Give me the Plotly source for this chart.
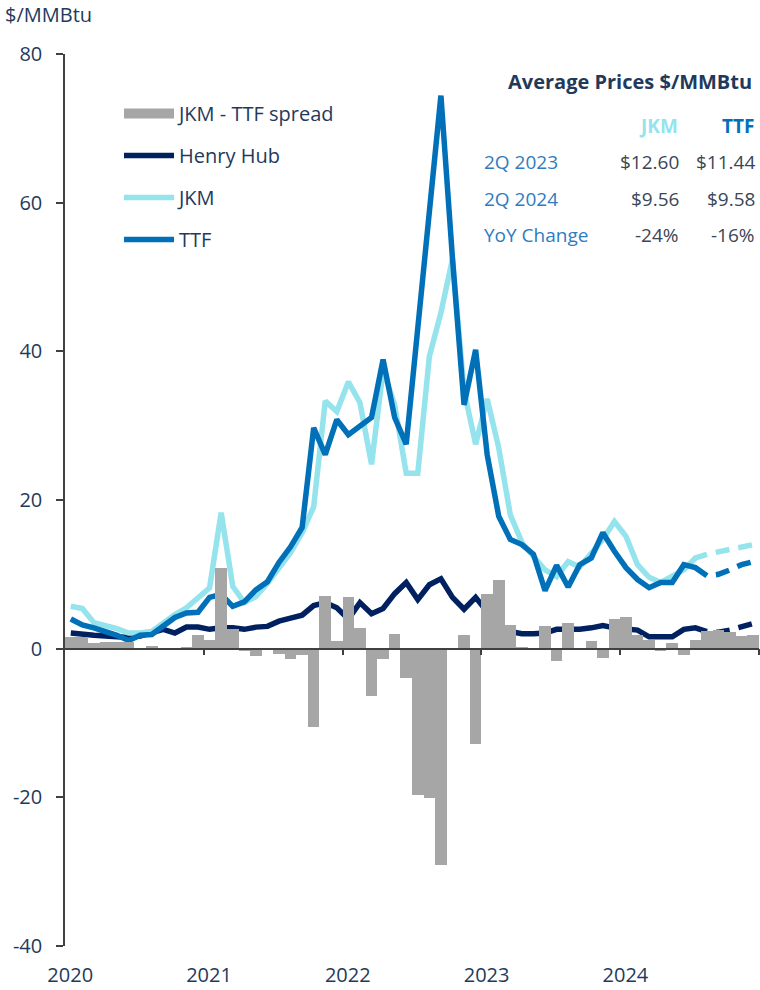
import plotly.graph_objs as go

# monthly series, Jan 2020 .. Dec 2024 (last points are forward curve)
years = ["2020", "2021", "2022", "2023", "2024"]
n_actual = 56  # Jan 2020 .. Aug 2024 are historical

ttf = [4.0, 3.2, 2.8, 2.3, 1.8, 1.1, 1.8, 1.9, 3.0, 4.2, 4.8, 4.9,
       6.9, 7.3, 5.7, 6.3, 7.9, 9.0, 11.6, 13.7, 16.3, 29.7, 26.1, 30.8,
       28.8, 29.9, 31.1, 38.9, 31.1, 27.5, 43.1, 58.8, 74.4, 52.5, 32.8, 40.2,
       26.1, 17.8, 14.7, 14.0, 12.7, 7.8, 11.2, 8.3, 11.3, 12.2, 15.6, 13.1,
       10.9, 9.3, 8.2, 8.9, 8.9, 11.3, 10.9, 9.8, 10.0, 10.6, 11.3, 11.7]

jkm = [5.7, 5.4, 3.5, 3.1, 2.7, 2.1, 2.1, 2.3, 3.5, 4.6, 5.5, 6.8,
       8.2, 18.3, 8.4, 6.2, 7.0, 8.8, 10.9, 12.9, 15.6, 19.1, 33.3, 31.9,
       35.9, 33.1, 24.8, 37.5, 32.8, 23.6, 23.6, 39.3, 45.2, 52.4, 34.7, 27.5,
       33.6, 27.0, 18.0, 14.3, 12.4, 10.6, 9.7, 11.7, 11.0, 12.9, 14.7, 17.1,
       15.1, 11.3, 9.6, 8.9, 9.7, 10.6, 12.2, 12.7, 13.0, 13.3, 13.6, 14.0]

henry_hub = [2.1, 1.9, 1.8, 1.7, 1.6, 1.5, 1.7, 2.2, 2.6, 2.1, 2.9, 2.9,
             2.6, 2.8, 2.8, 2.6, 2.9, 3.0, 3.7, 4.1, 4.5, 5.8, 6.2, 5.5,
             4.0, 6.2, 4.7, 5.4, 7.4, 8.9, 6.6, 8.6, 9.4, 6.9, 5.3, 6.9,
             4.8, 3.0, 2.3, 2.0, 2.0, 2.1, 2.6, 2.6, 2.6, 2.8, 3.1, 2.8,
             2.7, 2.5, 1.6, 1.6, 1.6, 2.6, 2.8, 2.3, 2.2, 2.5, 2.9, 3.4]

spread = [1.6, 1.6, 0.7, 0.9, 0.9, 0.9, 0.0, 0.3, -0.1, 0.0, 0.2, 1.8,
          1.2, 10.9, 2.7, -0.3, -1.0, -0.2, -0.7, -1.4, -0.9, -10.6, 7.1, 1.0,
          7.0, 2.8, -6.3, -1.4, 2.0, -3.9, -19.7, -20.1, -29.1, -0.1, 1.9, -12.8,
          7.4, 9.2, 3.2, 0.2, -0.1, 3.0, -1.7, 3.4, -0.2, 1.0, -1.2, 4.0,
          4.3, 1.8, 1.2, -0.3, 0.8, -0.8, 1.2, 2.4, 2.5, 2.2, 1.7, 1.9]

# side table
table_title = "Average Prices $/MMBtu"
table_rows = ["2Q 2023", "2Q 2024", "YoY Change"]
jkm_avg = ["$12.60", "$9.56", "-24%"]
ttf_avg = ["$11.44", "$9.58", "-16%"]

navy_txt = "#1F3A5C"
c_ttf = "#0070B8"
c_jkm = "#95E3EC"
c_hh = "#002060"
c_bar = "#A6A6A6"
font = "Open Sans"

x = [i + 0.5 for i in range(len(ttf))]
k = n_actual - 1

fig = go.Figure()

fig.add_trace(go.Bar(x=x, y=spread, width=1.0, marker_color=c_bar,
                     marker_line_width=0, showlegend=False, xaxis="x2"))
# legend swatch for the bars (wide grey block like the original)
fig.add_trace(go.Scatter(x=[None], y=[None], mode="lines",
                         line=dict(color=c_bar, width=12),
                         name="JKM - TTF spread", legendgroup="a"))

for name, ys, col, grp in [("Henry Hub", henry_hub, c_hh, "b"),
                           ("JKM", jkm, c_jkm, "c"),
                           ("TTF", ttf, c_ttf, "d")]:
    fig.add_trace(go.Scatter(x=x[:n_actual], y=ys[:n_actual], mode="lines",
                             line=dict(color=col, width=5.5), name=name,
                             legendgroup=grp))
    fig.add_trace(go.Scatter(x=x[k:], y=ys[k:], mode="lines",
                             line=dict(color=col, width=5.5, dash="0px,9px,14px,0px"),
                             showlegend=False, legendgroup=grp))


def px(xp):
    return (xp - 65) / 694


def py(yp):
    return (946 - yp) / 892


annotations = [dict(text="$/MMBtu", x=px(3), y=py(15), xanchor="left",
                    font=dict(size=20, color=navy_txt)),
               dict(text="<b>" + table_title + "</b>", x=px(754), y=py(82),
                    xanchor="right", font=dict(size=20, color=navy_txt)),
               dict(text="<b>JKM</b>", x=px(680), y=py(126), xanchor="right",
                    font=dict(size=19, color=c_jkm)),
               dict(text="<b>TTF</b>", x=px(756), y=py(126), xanchor="right",
                    font=dict(size=19, color=c_ttf))]
for j, row in enumerate(table_rows):
    yy = py(162 + 36.5 * j)
    annotations.append(dict(text=row, x=px(482), y=yy, xanchor="left",
                            font=dict(size=19, color="#2F7CC0")))
    annotations.append(dict(text=jkm_avg[j], x=px(681), y=yy, xanchor="right",
                            font=dict(size=19, color="#3A4656")))
    annotations.append(dict(text=ttf_avg[j], x=px(757), y=yy, xanchor="right",
                            font=dict(size=19, color="#3A4656")))
for a in annotations:
    a.update(xref="paper", yref="paper", yanchor="middle", showarrow=False)

fig.layout.update(
    width=760, height=990,
    margin=dict(l=65, r=1, t=54, b=44),
    plot_bgcolor="white", paper_bgcolor="white",
    font=dict(family=font, size=20, color=navy_txt),
    bargap=0,
    xaxis=dict(range=[0, 60], showgrid=False, zeroline=False, showline=False,
               tickvals=[12 * i + 0.45 for i in range(len(years))],
               ticktext=years, ticks="", ticklabelstandoff=15,
               tickfont=dict(size=20, color=navy_txt)),
    xaxis2=dict(range=[0, 60], matches="x", overlaying="x", anchor="free",
                position=40 / 120, showgrid=False, zeroline=False,
                showline=True, linecolor="#404040", linewidth=1.5,
                ticks="outside", ticklen=6, tickwidth=1.5, tickcolor="#404040",
                tickvals=[12, 24, 36, 48, 60], showticklabels=False),
    yaxis=dict(range=[-40, 80], tickvals=[-40, -20, 0, 20, 40, 60, 80],
               ticktext=["-40", "-20", "0", "20", "40", "60", "80"],
               showgrid=False, zeroline=False, showline=True,
               linecolor="#404040", linewidth=1.5, ticks="outside",
               ticklen=7, tickwidth=1.5, tickcolor="#404040",
               ticklabelstandoff=10,
               tickfont=dict(size=20, color=navy_txt)),
    legend=dict(x=px(119), y=py(94), xanchor="left", yanchor="top",
                traceorder="grouped", tracegroupgap=13, itemwidth=50,
                font=dict(size=20, color=navy_txt), bgcolor="rgba(0,0,0,0)"),
    annotations=annotations,
    showlegend=True,
)

fig.write_html("out.html", config={"displayModeBar": False},
               post_script="document.body.style.margin='0px';")
